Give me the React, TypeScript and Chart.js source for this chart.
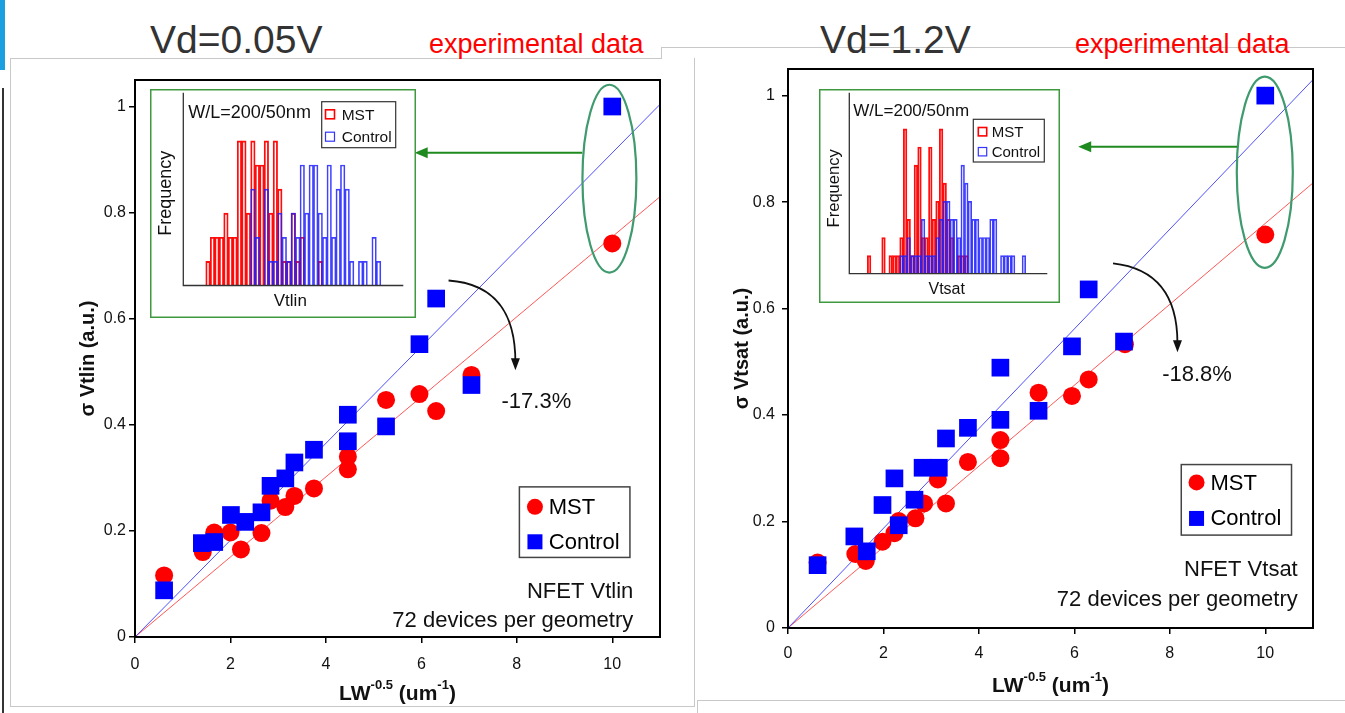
import React, { useEffect, useRef } from 'react';
import { Chart, registerables } from 'chart.js';
Chart.register(...registerables);

const FONT = '"Liberation Sans", Arial, Helvetica, sans-serif';

// ---------- Vd = 0.05 V : sigma Vtlin ----------
const vtlinMstX = [0.61, 1.42, 1.66, 2.0, 2.22, 2.65, 2.84, 3.15, 3.34, 3.75, 4.46, 4.46, 5.26, 5.96, 6.31, 7.05, 10];
const vtlinMstY = [0.116, 0.16, 0.197, 0.197, 0.165, 0.196, 0.257, 0.245, 0.266, 0.28, 0.34, 0.316, 0.447, 0.458, 0.426, 0.494, 0.742];
const vtlinCtrlX = [0.61, 1.4, 1.66, 2.01, 2.31, 2.65, 2.84, 3.15, 3.34, 3.75, 4.46, 4.46, 5.26, 5.96, 6.31, 7.05, 10];
const vtlinCtrlY = [0.088, 0.177, 0.179, 0.23, 0.217, 0.235, 0.285, 0.299, 0.329, 0.353, 0.369, 0.419, 0.397, 0.552, 0.638, 0.475, 1.0];

// ---------- Vd = 1.2 V : sigma Vtsat ----------
const vtsatMstX = [0.62, 1.41, 1.63, 1.98, 2.23, 2.32, 2.67, 2.85, 3.14, 3.31, 3.77, 4.45, 4.45, 5.25, 5.95, 6.3, 7.06, 10];
const vtsatMstY = [0.123, 0.139, 0.126, 0.162, 0.178, 0.201, 0.206, 0.234, 0.279, 0.234, 0.312, 0.353, 0.319, 0.442, 0.436, 0.467, 0.533, 0.739];
const vtsatCtrlX = [0.62, 1.39, 1.65, 1.98, 2.23, 2.32, 2.65, 2.82, 3.16, 3.31, 3.77, 4.45, 4.45, 5.25, 5.95, 6.3, 7.04, 10];
const vtsatCtrlY = [0.118, 0.172, 0.144, 0.231, 0.281, 0.193, 0.241, 0.301, 0.301, 0.356, 0.376, 0.391, 0.489, 0.408, 0.529, 0.636, 0.538, 1.0];

// fitted lines through the origin (end points read at x = 11)
const fitX = [0, 11];
const vtlinMstFit = [0, 0.83];
const vtlinCtrlFit = [0, 1.004];
const vtsatMstFit = [0, 0.836];
const vtsatCtrlFit = [0, 1.03];

const xTicks = [0, 2, 4, 6, 8, 10];
const yTicks = [0, 0.2, 0.4, 0.6, 0.8, 1];

// ---------- inset histograms (counts per bin) ----------
const vtlinBinCount = 49;
const vtlinHistMstStart = 5;
const vtlinHistMst = [1, 2, 2, 2, 3, 2, 2, 6, 6, 3, 6, 5, 5, 6, 3, 6, 4, 1, 1, 3, 1, 2, 0, 0, 0, 1];
const vtlinHistCtrlStart = 15;
const vtlinHistCtrl = [4, 2, 0, 4, 1, 1, 3, 2, 1, 3, 2, 5, 3, 5, 5, 3, 2, 5, 2, 4, 5, 4, 1, 0, 1, 1, 0, 2, 1];

const vtsatBinCount = 55;
const vtsatHistMstStart = 5;
const vtsatHistMst = [1, 0, 0, 0, 2, 0, 1, 1, 1, 2, 8, 3, 1, 6, 7, 2, 2, 7, 3, 4, 8, 5, 3, 2, 0, 1, 1, 1];
const vtsatHistCtrlStart = 14;
const vtsatHistCtrl = [1, 1, 2, 1, 1, 1, 3, 1, 1, 1, 2, 3, 4, 4, 3, 3, 2, 6, 5, 4, 3, 3, 2, 2, 2, 3, 3, 0, 1, 1, 1, 1, 0, 0, 1];

const xTitleParts = [
  { t: 'LW', sup: false },
  { t: '-0.5', sup: true },
  { t: ' (um', sup: false },
  { t: '-1', sup: true },
  { t: ')', sup: false },
];

const RED = '#ff0000';
const BLUE = '#0000ff';

function pts(xs: number[], ys: number[]) {
  return xs.map((x, i) => ({ x, y: ys[i] }));
}

function drawXTitle(ctx: CanvasRenderingContext2D, cx: number, baseline: number) {
  const big = `bold 21px ${FONT}`;
  const small = `bold 13px ${FONT}`;
  let total = 0;
  const w = xTitleParts.map((p) => {
    ctx.font = p.sup ? small : big;
    const m = ctx.measureText(p.t).width;
    total += m;
    return m;
  });
  let x = cx - total / 2;
  ctx.fillStyle = '#111';
  ctx.textAlign = 'left';
  ctx.textBaseline = 'alphabetic';
  xTitleParts.forEach((p, i) => {
    ctx.font = p.sup ? small : big;
    ctx.fillText(p.t, x, p.sup ? baseline - 11 : baseline);
    x += w[i];
  });
}

type Ann = {
  ellipse: { cx: number; cy: number; rx: number; ry: number };
  arrow: { x0: number; x1: number; y: number };
  curve: number[][];
  tip: number[];
  pct: { x: number; y: number; text: string };
  legend: { x0: number; y0: number; x1: number; y1: number; mx: number; cy: number; sy: number; tx: number };
  notes: { x: number; y1: number; y2: number; t1: string; t2: string };
  xTitleBaseline: number;
};

function mainPlugin(ann: Ann) {
  return {
    id: 'mainAnn',
    afterDraw(chart: any) {
      const ctx: CanvasRenderingContext2D = chart.ctx;
      const a = chart.chartArea;
      const xs = chart.scales.x;
      const ys = chart.scales.y;
      const X = (v: number) => xs.getPixelForValue(v);
      const Y = (v: number) => ys.getPixelForValue(v);
      ctx.save();
      // frame
      ctx.strokeStyle = '#000';
      ctx.lineWidth = 2;
      ctx.strokeRect(a.left, a.top, a.right - a.left, a.bottom - a.top);

      // ellipse
      const e = ann.ellipse;
      ctx.beginPath();
      ctx.strokeStyle = '#3f9a6e';
      ctx.lineWidth = 2.2;
      ctx.ellipse(X(e.cx), Y(e.cy), Math.abs(X(e.cx + e.rx) - X(e.cx)), Math.abs(Y(e.cy) - Y(e.cy + e.ry)), 0, 0, Math.PI * 2);
      ctx.stroke();

      // green arrow
      const g = ann.arrow;
      const gy = Y(g.y);
      const gx1 = X(g.x1);
      ctx.strokeStyle = '#1f8a1f';
      ctx.fillStyle = '#1f8a1f';
      ctx.lineWidth = 2;
      ctx.beginPath();
      ctx.moveTo(X(g.x0), gy);
      ctx.lineTo(gx1 + 10, gy);
      ctx.stroke();
      ctx.beginPath();
      ctx.moveTo(gx1, gy);
      ctx.lineTo(gx1 + 13, gy - 5.5);
      ctx.lineTo(gx1 + 13, gy + 5.5);
      ctx.closePath();
      ctx.fill();

      // curved arrow
      const c = ann.curve;
      ctx.strokeStyle = '#111';
      ctx.fillStyle = '#111';
      ctx.lineWidth = 1.8;
      ctx.beginPath();
      ctx.moveTo(X(c[0][0]), Y(c[0][1]));
      ctx.bezierCurveTo(X(c[1][0]), Y(c[1][1]), X(c[2][0]), Y(c[2][1]), X(c[3][0]), Y(c[3][1]));
      ctx.stroke();
      const tx = X(ann.tip[0]);
      const ty = Y(ann.tip[1]);
      ctx.beginPath();
      ctx.moveTo(tx, ty);
      ctx.lineTo(tx - 4.5, ty - 12);
      ctx.lineTo(tx + 4.5, ty - 12);
      ctx.closePath();
      ctx.fill();

      // percentage
      ctx.font = `22px ${FONT}`;
      ctx.textBaseline = 'middle';
      ctx.textAlign = 'left';
      ctx.fillStyle = '#111';
      ctx.fillText(ann.pct.text, X(ann.pct.x), Y(ann.pct.y));

      // legend
      const L = ann.legend;
      ctx.strokeStyle = '#444';
      ctx.lineWidth = 1.5;
      ctx.strokeRect(X(L.x0), Y(L.y0), X(L.x1) - X(L.x0), Y(L.y1) - Y(L.y0));
      ctx.fillStyle = RED;
      ctx.beginPath();
      ctx.arc(X(L.mx), Y(L.cy), 8, 0, Math.PI * 2);
      ctx.fill();
      ctx.fillStyle = BLUE;
      ctx.fillRect(X(L.mx) - 7.5, Y(L.sy) - 7.5, 15, 15);
      ctx.fillStyle = '#000';
      ctx.font = `22px ${FONT}`;
      ctx.fillText('MST', X(L.tx), Y(L.cy) + 1);
      ctx.fillText('Control', X(L.tx), Y(L.sy) + 1);

      // notes
      ctx.textAlign = 'right';
      ctx.fillStyle = '#111';
      ctx.fillText(ann.notes.t1, X(ann.notes.x), Y(ann.notes.y1));
      ctx.fillText(ann.notes.t2, X(ann.notes.x), Y(ann.notes.y2));

      // x title
      drawXTitle(ctx, (a.left + a.right) / 2, ann.xTitleBaseline);
      ctx.restore();
    },
  };
}

function mainConfig(opts: {
  mstX: number[]; mstY: number[]; ctrlX: number[]; ctrlY: number[];
  mstFit: number[]; ctrlFit: number[];
  padding: { left: number; top: number; right: number; bottom: number };
  yWidth: number; xHeight: number; xTickPad: number; yTickPad: number;
  yTitle: string; ann: Ann;
}): any {
  return {
    type: 'scatter',
    data: {
      datasets: [
        {
          label: 'Control',
          data: pts(opts.ctrlX, opts.ctrlY),
          pointStyle: 'rect',
          pointRadius: 12.5,
          backgroundColor: BLUE,
          borderColor: BLUE,
          borderWidth: 0,
          order: 1,
        },
        {
          label: 'MST',
          data: pts(opts.mstX, opts.mstY),
          pointStyle: 'circle',
          pointRadius: 9,
          backgroundColor: RED,
          borderColor: RED,
          borderWidth: 0,
          order: 2,
        },
        {
          label: 'Control fit',
          data: pts(fitX, opts.ctrlFit),
          showLine: true,
          pointRadius: 0,
          borderColor: 'rgba(60,60,255,0.9)',
          borderWidth: 1,
          order: 3,
        },
        {
          label: 'MST fit',
          data: pts(fitX, opts.mstFit),
          showLine: true,
          pointRadius: 0,
          borderColor: 'rgba(255,70,70,0.9)',
          borderWidth: 1,
          order: 3,
        },
      ],
    },
    options: {
      responsive: false,
      animation: false,
      devicePixelRatio: 1,
      events: [],
      layout: { padding: opts.padding },
      plugins: { legend: { display: false }, tooltip: { enabled: false }, title: { display: false } },
      scales: {
        x: {
          type: 'linear',
          min: 0,
          max: 11,
          afterBuildTicks: (s: any) => { s.ticks = xTicks.map((v) => ({ value: v })); },
          afterFit: (s: any) => { s.height = opts.xHeight; },
          ticks: { font: { family: FONT, size: 16 }, color: '#111', padding: opts.xTickPad, maxRotation: 0 },
          grid: { drawOnChartArea: false, drawTicks: true, tickLength: 6, color: '#000', lineWidth: 1.5 },
          border: { display: true, color: '#000', width: 2 },
        },
        y: {
          type: 'linear',
          min: 0,
          max: 1.05,
          afterBuildTicks: (s: any) => { s.ticks = yTicks.map((v) => ({ value: v })); },
          afterFit: (s: any) => { s.width = opts.yWidth; },
          ticks: { font: { family: FONT, size: 16 }, color: '#111', padding: opts.yTickPad, callback: (v: any) => String(v) },
          grid: { drawOnChartArea: false, drawTicks: true, tickLength: 6, color: '#000', lineWidth: 1.5 },
          border: { display: true, color: '#000', width: 2 },
          title: { display: true, text: opts.yTitle, font: { family: FONT, size: 20, weight: 'bold' }, color: '#111', padding: { top: 6, bottom: 0 } },
        },
      },
    },
    plugins: [mainPlugin(opts.ann)],
  };
}

function fullBins(counts: number[], start: number, n: number) {
  const out: (number | null)[] = new Array(n).fill(null);
  counts.forEach((v, i) => { if (v > 0) out[start + i] = v; });
  return out;
}

type InsetText = {
  title: { x: number; y: number; size: number };
  legend: { x: number; y: number; w: number; h: number; sq: number; sx: number; y1: number; y2: number; tx: number; size: number };
  freq: { x: number; y: number; size: number };
  xlab: { x: number; y: number; size: number; text: string };
};

function insetPlugin(t: InsetText) {
  return {
    id: 'insetDeco',
    beforeDraw(chart: any) {
      const { ctx, width, height } = chart;
      ctx.save();
      ctx.fillStyle = '#fff';
      ctx.fillRect(0, 0, width, height);
      ctx.strokeStyle = '#3f9a3f';
      ctx.lineWidth = 1.5;
      ctx.strokeRect(0.75, 0.75, width - 1.5, height - 1.5);
      ctx.restore();
    },
    afterDraw(chart: any) {
      const ctx: CanvasRenderingContext2D = chart.ctx;
      const a = chart.chartArea;
      ctx.save();
      ctx.strokeStyle = '#333';
      ctx.lineWidth = 1.3;
      ctx.beginPath();
      ctx.moveTo(a.left, a.top);
      ctx.lineTo(a.left, a.bottom);
      ctx.lineTo(a.right, a.bottom);
      ctx.stroke();

      ctx.fillStyle = '#111';
      ctx.textBaseline = 'middle';
      ctx.textAlign = 'left';
      ctx.font = `${t.title.size}px ${FONT}`;
      ctx.fillText('W/L=200/50nm', t.title.x, t.title.y);

      ctx.textAlign = 'center';
      ctx.font = `${t.xlab.size}px ${FONT}`;
      ctx.fillText(t.xlab.text, t.xlab.x, t.xlab.y);

      ctx.save();
      ctx.translate(t.freq.x, t.freq.y);
      ctx.rotate(-Math.PI / 2);
      ctx.font = `${t.freq.size}px ${FONT}`;
      ctx.fillText('Frequency', 0, 0);
      ctx.restore();

      const L = t.legend;
      ctx.fillStyle = '#fff';
      ctx.fillRect(L.x, L.y, L.w, L.h);
      ctx.strokeStyle = '#333';
      ctx.lineWidth = 1.2;
      ctx.strokeRect(L.x, L.y, L.w, L.h);
      ctx.lineWidth = 1.6;
      ctx.strokeStyle = RED;
      ctx.strokeRect(L.sx, L.y1 - L.sq / 2, L.sq, L.sq);
      ctx.strokeStyle = 'rgba(30,30,255,0.9)';
      ctx.lineWidth = 1.2;
      ctx.strokeRect(L.sx, L.y2 - L.sq / 2, L.sq, L.sq);
      ctx.fillStyle = '#111';
      ctx.textAlign = 'left';
      ctx.font = `${L.size}px ${FONT}`;
      ctx.fillText('MST', L.tx, L.y1 + 1);
      ctx.fillText('Control', L.tx, L.y2 + 1);
      ctx.restore();
    },
  };
}

function insetConfig(o: {
  n: number; mst: number[]; mstStart: number; ctrl: number[]; ctrlStart: number; yMax: number;
  padding: { left: number; right: number; top: number; bottom: number }; bw: number; text: InsetText;
}): any {
  const labels = Array.from({ length: o.n }, (_, i) => String(i));
  return {
    type: 'bar',
    data: {
      labels,
      datasets: [
        {
          label: 'Control',
          data: fullBins(o.ctrl, o.ctrlStart, o.n),
          backgroundColor: 'rgba(0,0,0,0)',
          borderColor: 'rgba(30,30,255,0.85)',
          borderWidth: o.bw,
          barPercentage: 1,
          categoryPercentage: 1,
          grouped: false,
          order: 1,
        },
        {
          label: 'MST',
          data: fullBins(o.mst, o.mstStart, o.n),
          backgroundColor: 'rgba(0,0,0,0)',
          borderColor: 'rgba(255,0,0,0.95)',
          borderWidth: o.bw + 0.2,
          barPercentage: 1,
          categoryPercentage: 1,
          grouped: false,
          order: 2,
        },
      ],
    },
    options: {
      responsive: false,
      animation: false,
      devicePixelRatio: 1,
      events: [],
      layout: { padding: o.padding },
      plugins: { legend: { display: false }, tooltip: { enabled: false } },
      scales: {
        x: { display: false, offset: true },
        y: { display: false, min: 0, max: o.yMax },
      },
    },
    plugins: [insetPlugin(o.text)],
  };
}

function ChartCanvas(props: { left: number; top: number; width: number; height: number; config: () => any }) {
  const ref = useRef<HTMLCanvasElement>(null);
  useEffect(() => {
    const chart = new Chart(ref.current as HTMLCanvasElement, props.config());
    return () => chart.destroy();
  }, []);
  return (
    <canvas
      ref={ref}
      width={props.width}
      height={props.height}
      style={{ position: 'absolute', left: props.left, top: props.top, width: props.width, height: props.height }}
    />
  );
}

const leftAnn: Ann = {
  ellipse: { cx: 9.94, cy: 0.864, rx: 0.565, ry: 0.177 },
  arrow: { x0: 9.37, x1: 5.86, y: 0.913 },
  curve: [[6.57, 0.672], [7.64, 0.665], [7.97, 0.601], [7.97, 0.518]],
  tip: [7.97, 0.503],
  pct: { x: 7.68, y: 0.443, text: '-17.3%' },
  legend: { x0: 8.054, y0: 0.283, x1: 10.37, y1: 0.15, mx: 8.38, cy: 0.2454, sy: 0.1795, tx: 8.67 },
  notes: { x: 10.44, y1: 0.0853, y2: 0.0307, t1: 'NFET Vtlin', t2: '72 devices per geometry' },
  xTitleBaseline: 700,
};

const rightAnn: Ann = {
  ellipse: { cx: 9.99, cy: 0.856, rx: 0.587, ry: 0.1796 },
  arrow: { x0: 9.41, x1: 6.08, y: 0.904 },
  curve: [[6.81, 0.685], [7.8, 0.675], [8.16, 0.615], [8.16, 0.535]],
  tip: [8.16, 0.518],
  pct: { x: 7.84, y: 0.4747, text: '-18.8%' },
  legend: { x0: 8.24, y0: 0.307, x1: 10.55, y1: 0.1745, mx: 8.56, cy: 0.2734, sy: 0.2058, tx: 8.85 },
  notes: { x: 10.68, y1: 0.1088, y2: 0.0525, t1: 'NFET Vtsat', t2: '72 devices per geometry' },
  xTitleBaseline: 692,
};

const line = (s: React.CSSProperties): React.CSSProperties => ({ position: 'absolute', background: '#c8c8c8', ...s });

export default function App() {
  const headStyle: React.CSSProperties = { position: 'absolute', fontFamily: FONT, lineHeight: 1, whiteSpace: 'nowrap', margin: 0 };
  return (
    <div style={{ position: 'fixed', left: 0, top: 0, width: 1345, height: 713, background: '#fff', overflow: 'hidden' }}>
      {/* slide decorations */}
      <div style={{ position: 'absolute', left: 0, top: 0, width: 5, height: 70, background: '#1aa0e0' }} />
      <div style={{ position: 'absolute', left: 2, top: 88, width: 2, height: 625, background: '#333' }} />
      <div style={line({ left: 10, top: 58, width: 651, height: 1 })} />
      <div style={line({ left: 661, top: 47, width: 1, height: 12 })} />
      <div style={line({ left: 661, top: 47, width: 684, height: 1 })} />
      <div style={line({ left: 10, top: 58, width: 1, height: 648 })} />
      <div style={line({ left: 10, top: 706, width: 685, height: 1 })} />
      <div style={line({ left: 694, top: 58, width: 1, height: 648 })} />
      <div style={line({ left: 697, top: 700, width: 648, height: 1 })} />
      <div style={line({ left: 697, top: 700, width: 1, height: 13 })} />

      <div style={{ ...headStyle, left: 150, top: 20, fontSize: 39, color: '#333' }}>Vd=0.05V</div>
      <div style={{ ...headStyle, left: 429, top: 31, fontSize: 27, color: '#ff0000' }}>experimental data</div>
      <div style={{ ...headStyle, left: 820, top: 20, fontSize: 39, color: '#333' }}>Vd=1.2V</div>
      <div style={{ ...headStyle, left: 1075, top: 31, fontSize: 27, color: '#ff0000' }}>experimental data</div>

      <ChartCanvas
        left={0}
        top={0}
        width={700}
        height={713}
        config={() =>
          mainConfig({
            mstX: vtlinMstX, mstY: vtlinMstY, ctrlX: vtlinCtrlX, ctrlY: vtlinCtrlY,
            mstFit: vtlinMstFit, ctrlFit: vtlinCtrlFit,
            padding: { left: 70, top: 80, right: 40, bottom: 0 },
            yWidth: 65, xHeight: 76, xTickPad: 12, yTickPad: 3,
            yTitle: 'σ Vtlin (a.u.)', ann: leftAnn,
          })
        }
      />
      <ChartCanvas
        left={700}
        top={0}
        width={645}
        height={713}
        config={() =>
          mainConfig({
            mstX: vtsatMstX, mstY: vtsatMstY, ctrlX: vtsatCtrlX, ctrlY: vtsatCtrlY,
            mstFit: vtsatMstFit, ctrlFit: vtsatCtrlFit,
            padding: { left: 24, top: 69, right: 32, bottom: 0 },
            yWidth: 64, xHeight: 85, xTickPad: 10, yTickPad: 7,
            yTitle: 'σ Vtsat (a.u.)', ann: rightAnn,
          })
        }
      />
      <ChartCanvas
        left={150}
        top={89}
        width={266}
        height={229}
        config={() =>
          insetConfig({
            n: vtlinBinCount, mst: vtlinHistMst, mstStart: vtlinHistMstStart, ctrl: vtlinHistCtrl, ctrlStart: vtlinHistCtrlStart,
            yMax: 8, bw: 1.0,
            padding: { left: 33.3, right: 12.7, top: 3.7, bottom: 32.5 },
            text: {
              title: { x: 38.3, y: 24.3, size: 18 },
              legend: { x: 171.7, y: 12.7, w: 74, h: 46, sq: 9, sx: 175.5, y1: 25.3, y2: 47.7, tx: 191.7, size: 15.5 },
              freq: { x: 16, y: 104.3, size: 18 },
              xlab: { x: 140.3, y: 212.7, size: 17, text: 'Vtlin' },
            },
          })
        }
      />
      <ChartCanvas
        left={819}
        top={89}
        width={241}
        height={214}
        config={() =>
          insetConfig({
            n: vtsatBinCount, mst: vtsatHistMst, mstStart: vtsatHistMstStart, ctrl: vtsatHistCtrl, ctrlStart: vtsatHistCtrlStart,
            yMax: 10, bw: 1.0,
            padding: { left: 30.3, right: 12.7, top: 3.7, bottom: 29.3 },
            text: {
              title: { x: 34.3, y: 22.7, size: 17 },
              legend: { x: 154.3, y: 30.3, w: 71, h: 42.7, sq: 8.4, sx: 159.3, y1: 42.7, y2: 62.7, tx: 172.7, size: 15 },
              freq: { x: 15, y: 99.3, size: 16.6 },
              xlab: { x: 127.7, y: 201, size: 16, text: 'Vtsat' },
            },
          })
        }
      />
    </div>
  );
}
